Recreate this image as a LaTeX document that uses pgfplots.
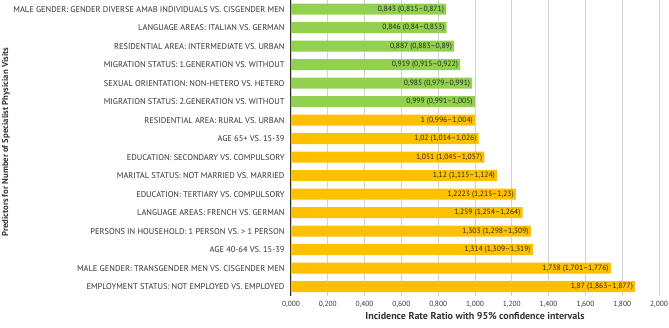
\documentclass[border=0pt]{standalone}
\usepackage{pgfplots}
\pgfplotsset{compat=1.18}
\usepackage{fontspec}
\setmainfont{PT Sans}
\definecolor{barGreen}{HTML}{92D050}
\definecolor{barOrange}{HTML}{FFC000}
\definecolor{txt}{HTML}{333333}
\begin{document}
\begin{tikzpicture}
\begin{axis}[
  scale only axis,
  width=368pt, height=296pt,
  at={(0,0)}, anchor=south west,
  xmin=0, xmax=2, ymin=-0.5, ymax=15.5,
  y dir=reverse,
  xtick={0,0.2,...,2.01},
  ytick={0,...,15},
  yticklabels={MALE GENDER: GENDER DIVERSE AMAB INDIVIDUALS VS. CISGENDER MEN,
    LANGUAGE AREAS: ITALIAN VS. GERMAN,
    RESIDENTIAL AREA: INTERMEDIATE VS. URBAN,
    MIGRATION STATUS: 1.GENERATION VS. WITHOUT,
    SEXUAL ORIENTATION: NON-HETERO VS. HETERO,
    MIGRATION STATUS: 2.GENERATION VS. WITHOUT,
    RESIDENTIAL AREA: RURAL VS. URBAN,
    AGE 65+ VS. 15-39,
    EDUCATION: SECONDARY VS. COMPULSORY,
    MARITAL STATUS: NOT MARRIED VS. MARRIED,
    EDUCATION: TERTIARY VS. COMPULSORY,
    LANGUAGE AREAS: FRENCH VS. GERMAN,
    PERSONS IN HOUSEHOLD: 1 PERSON VS. > 1 PERSON,
    AGE 40-64 VS. 15-39,
    MALE GENDER: TRANSGENDER MEN VS. CISGENDER MEN,
    EMPLOYMENT STATUS: NOT EMPLOYED VS. EMPLOYED},
  yticklabel style={font=\fontsize{8.4}{9}\selectfont, text=txt, xshift=-3pt},
  xticklabel style={font=\fontsize{7.4}{8}\selectfont, text=txt, yshift=-2pt},
  /pgf/number format/.cd, fixed, fixed zerofill, precision=3, use comma, assume math mode=true,
  /pgfplots/.cd,
  major tick length=0pt,
  axis lines*=left,
  x axis line style={draw=none},
  y axis line style={black!85, line width=1pt},
  xmajorgrids,
  grid style={gray!35, line width=0.8pt},
  xlabel={\textbf{Incidence Rate Ratio with 95\% confidence intervals}},
  ylabel={\textbf{Predictors for Number of Specialist Physician Visits}},
  xlabel style={font=\fontsize{10}{11}\selectfont, text=txt, yshift=2pt},
  every axis y label/.style={at={(axis description cs:0,0.52)}, xshift=-285pt, rotate=90, anchor=center, font=\fontsize{8.7}{10}\selectfont, text=txt},
  every node near coord/.append style={font=\fontsize{7.6}{8}\selectfont, text=black!85, anchor=east, inner xsep=2pt},
]
\addplot[xbar, fill=barGreen, draw=none, bar width=11pt, bar shift=0pt,
  nodes near coords, point meta=explicit symbolic]
  table[col sep=semicolon, row sep=\\, x=x, y=y, meta=lab] {
x;y;lab\\
0.843;0;0,843 (0,815–0,871)\\
0.846;1;0,846 (0,84–0,853)\\
0.887;2;0,887 (0,883–0,89)\\
0.919;3;0,919 (0,915–0,922)\\
0.985;4;0,985 (0,979–0,991)\\
0.999;5;0,999 (0,991–1,005)\\
};
\addplot[xbar, fill=barOrange, draw=none, bar width=11pt, bar shift=0pt,
  nodes near coords, point meta=explicit symbolic]
  table[col sep=semicolon, row sep=\\, x=x, y=y, meta=lab] {
x;y;lab\\
1;6;1 (0,996–1,004)\\
1.02;7;1,02 (1,014–1,026)\\
1.051;8;1,051 (1,045–1,057)\\
1.12;9;1,12 (1,115–1,124)\\
1.2223;10;1,2223 (1,215–1,23)\\
1.259;11;1,259 (1,254–1,264)\\
1.303;12;1,303 (1,298–1,309)\\
1.314;13;1,314 (1,309–1,319)\\
1.738;14;1,738 (1,701–1,776)\\
1.87;15;1,87 (1,863–1,877)\\
};
\end{axis}
\pgfresetboundingbox
\path (-291pt,-32pt) rectangle (378pt,296pt);
\end{tikzpicture}
\end{document}
